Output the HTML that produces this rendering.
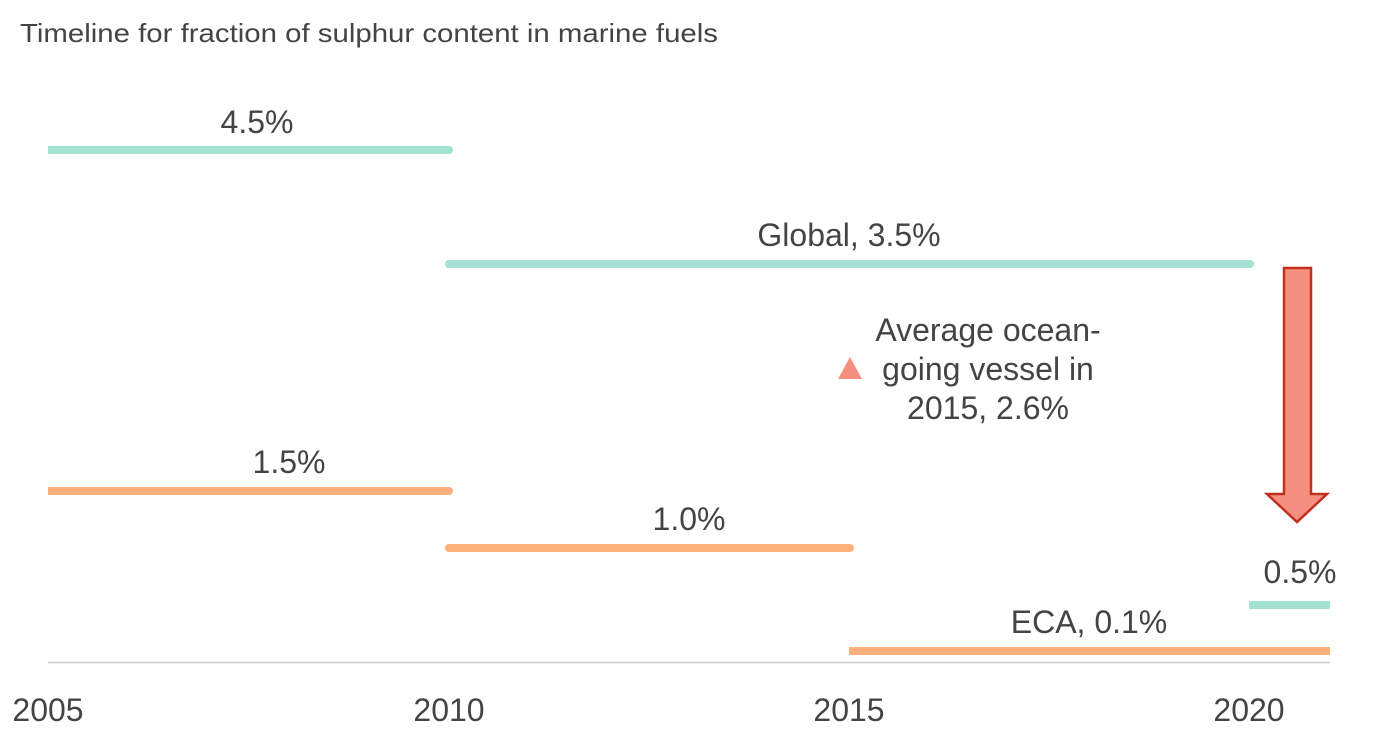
<!DOCTYPE html>
<html><head><meta charset="utf-8"><style>
html,body{margin:0;padding:0;background:#fff;}
svg{display:block;}
text{font-family:"Liberation Sans",sans-serif;fill:#444;}
</style></head><body>
<svg width="1378" height="756" viewBox="0 0 1378 756">
<text x="20" y="42" font-size="26" textLength="698" lengthAdjust="spacingAndGlyphs">Timeline for fraction of sulphur content in marine fuels</text>
<g stroke-width="8" stroke-linecap="round" fill="none">
<line x1="52" y1="150" x2="449" y2="150" stroke="#a3e2d1"/>
<line x1="449" y1="264" x2="1250" y2="264" stroke="#a3e2d1"/>
<line x1="1249" y1="605" x2="1330" y2="605" stroke="#a3e2d1" stroke-linecap="butt"/>
<line x1="52" y1="491" x2="449" y2="491" stroke="#fdb07c"/>
<line x1="449" y1="548" x2="850" y2="548" stroke="#fdb07c"/>
<line x1="849" y1="651" x2="1330" y2="651" stroke="#fdb07c" stroke-linecap="butt"/>
</g>
<line x1="48" y1="150" x2="54" y2="150" stroke="#a3e2d1" stroke-width="8"/>
<line x1="48" y1="491" x2="54" y2="491" stroke="#fdb07c" stroke-width="8"/>
<line x1="48" y1="662.5" x2="1330" y2="662.5" stroke="#ccc" stroke-width="1.5"/>
<g font-size="32" text-anchor="middle">
<text x="257" y="133">4.5%</text>
<text x="849" y="246">Global, 3.5%</text>
<text x="289" y="473">1.5%</text>
<text x="689" y="530">1.0%</text>
<text x="1089" y="633">ECA, 0.1%</text>
<text x="1300" y="583">0.5%</text>
<text x="988" y="341">Average ocean-</text>
<text x="988" y="380">going vessel in</text>
<text x="988" y="419">2015, 2.6%</text>
<text x="48" y="721">2005</text>
<text x="449" y="721">2010</text>
<text x="849" y="721">2015</text>
<text x="1249" y="721">2020</text>
</g>
<polygon points="850,357 862,379 838,379" fill="#f59080"/>
<polygon points="1284,268 1311,268 1311,494 1327,494 1297,522 1267,494 1284,494" fill="#f59080" stroke="#c0301e" stroke-width="2.5" stroke-linejoin="miter"/>
</svg>
</body></html>
